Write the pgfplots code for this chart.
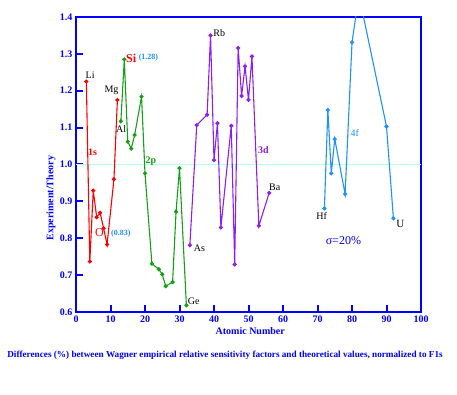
\documentclass[border=0pt]{standalone}
\usepackage{fontspec}
\setmainfont{Liberation Serif}
\usepackage{pgfplots}
\pgfplotsset{compat=1.18}
\definecolor{axblue}{RGB}{0,0,255}
\definecolor{cred}{RGB}{255,0,0}
\definecolor{cgreen}{RGB}{20,160,20}
\definecolor{cpurple}{RGB}{140,30,240}
\definecolor{cblue}{RGB}{30,144,255}
\definecolor{ccyan}{RGB}{175,255,255}
\begin{document}
\begin{tikzpicture}
\path[use as bounding box] (-76pt,-83pt) rectangle (381pt,312pt);
\begin{axis}[
 scale only axis, width=345pt, height=295pt,
 xmin=0, xmax=100, ymin=0.6, ymax=1.4,
 axis line style={axblue, line width=2.5pt},
 xtick={0,10,...,100}, ytick={0.6,0.7,...,1.4},
 tick style={axblue, line width=2pt},
 major tick length=7pt,
 tick align=inside,
 xtick pos=bottom, ytick pos=left,
 /pgf/number format/assume math mode=true,
 ticklabel style={font=\bfseries\fontsize{10}{12}\selectfont, text=axblue},
 yticklabel style={/pgf/number format/fixed, /pgf/number format/precision=1, /pgf/number format/fixed zerofill},
 xlabel={Atomic Number}, ylabel={Experiment/Theory},
 every axis x label/.style={at={(axis description cs:0.505,-0.064)}, anchor=center, font=\bfseries\fontsize{10}{12}\selectfont, text=axblue},
 every axis y label/.style={at={(axis description cs:-0.0725,0.386)}, anchor=center, rotate=90, font=\bfseries\fontsize{10}{12}\selectfont, text=axblue},
 every axis plot/.append style={line width=1.1pt, mark=*, mark size=1.5pt},
]
\addplot[ccyan, line width=0.8pt, mark=none, forget plot] coordinates {(0,1) (100,1)};
% 1s
\addplot[cred, mark options={fill=cred}] coordinates {
(3,1.225) (4,0.737) (5,0.929) (6,0.857) (7,0.869) (8,0.827) (9,0.783) (11,0.96) (12,1.175)};
% 2p
\addplot[cgreen, mark options={fill=cgreen}] coordinates {
(13,1.117) (14,1.285) (15,1.062) (16,1.043) (17,1.080) (19,1.184) (20,0.976) (22,0.731) (24,0.716) (25,0.702) (26,0.670) (28,0.681) (29,0.872) (30,0.990) (32,0.618)};
% 3d
\addplot[cpurple, mark options={fill=cpurple}] coordinates {
(33,0.781) (35,1.107) (38,1.135) (39,1.350) (40,1.012) (41,1.112) (42,0.829) (45,1.105) (46,0.729) (47,1.316) (48,1.186) (49,1.266) (50,1.175) (51,1.293) (53,0.834) (56,0.923)};
% 4f
\addplot[cblue, mark options={fill=cblue}] coordinates {
(72,0.881) (73,1.148) (74,0.976) (75,1.069) (78,0.920) (80,1.331) (82,1.46) (90,1.103) (92,0.854)};

\node[font=\fontsize{10}{12}\selectfont] at (axis cs:4.1,1.243) {Li};
\node[font=\fontsize{10}{12}\selectfont] at (axis cs:10.3,1.20) {Mg};
\node[font=\fontsize{10}{12}\selectfont] at (axis cs:13.1,1.096) {Al};
\node[font=\bfseries\fontsize{12}{14}\selectfont, text=cred] at (axis cs:16,1.289) {Si};
\node[font=\bfseries\fontsize{8}{9}\selectfont, text=cblue] at (axis cs:21.0,1.289) {(1.28)};
\node[font=\bfseries\fontsize{10}{12}\selectfont, text=cred] at (axis cs:4.8,1.034) {1s};
\node[font=\bfseries\fontsize{10}{12}\selectfont, text=cgreen] at (axis cs:21.7,1.0095) {2p};
\node[font=\fontsize{12}{14}\selectfont, text=cred] at (axis cs:6.8,0.814) {O};
\node[font=\bfseries\fontsize{8}{9}\selectfont, text=cblue] at (axis cs:13.0,0.814) {(0.83)};
\node[font=\fontsize{10}{12}\selectfont] at (axis cs:34.1,0.63) {Ge};
\node[font=\fontsize{10}{12}\selectfont] at (axis cs:35.8,0.773) {As};
\node[font=\fontsize{10}{12}\selectfont] at (axis cs:41.5,1.357) {Rb};
\node[font=\bfseries\fontsize{10}{12}\selectfont, text=cpurple] at (axis cs:54.3,1.039) {3d};
\node[font=\fontsize{10}{12}\selectfont] at (axis cs:57.6,0.9375) {Ba};
\node[font=\fontsize{10}{12}\selectfont, text=cblue] at (axis cs:80.8,1.086) {4f};
\node[font=\fontsize{10}{12}\selectfont] at (axis cs:71.2,0.861) {Hf};
\node[font=\fontsize{11}{13}\selectfont] at (axis cs:94,0.839) {U};
\node[font=\fontsize{12}{14}\selectfont, text=axblue] at (axis cs:77.5,0.793) {σ=20\%};
\end{axis}
\node[text=axblue, font=\bfseries\fontsize{9.2}{11}\selectfont] at (149pt,-43pt) {Differences (\%) between Wagner empirical relative sensitivity factors and theoretical values, normalized to F1s};
\end{tikzpicture}
\end{document}
